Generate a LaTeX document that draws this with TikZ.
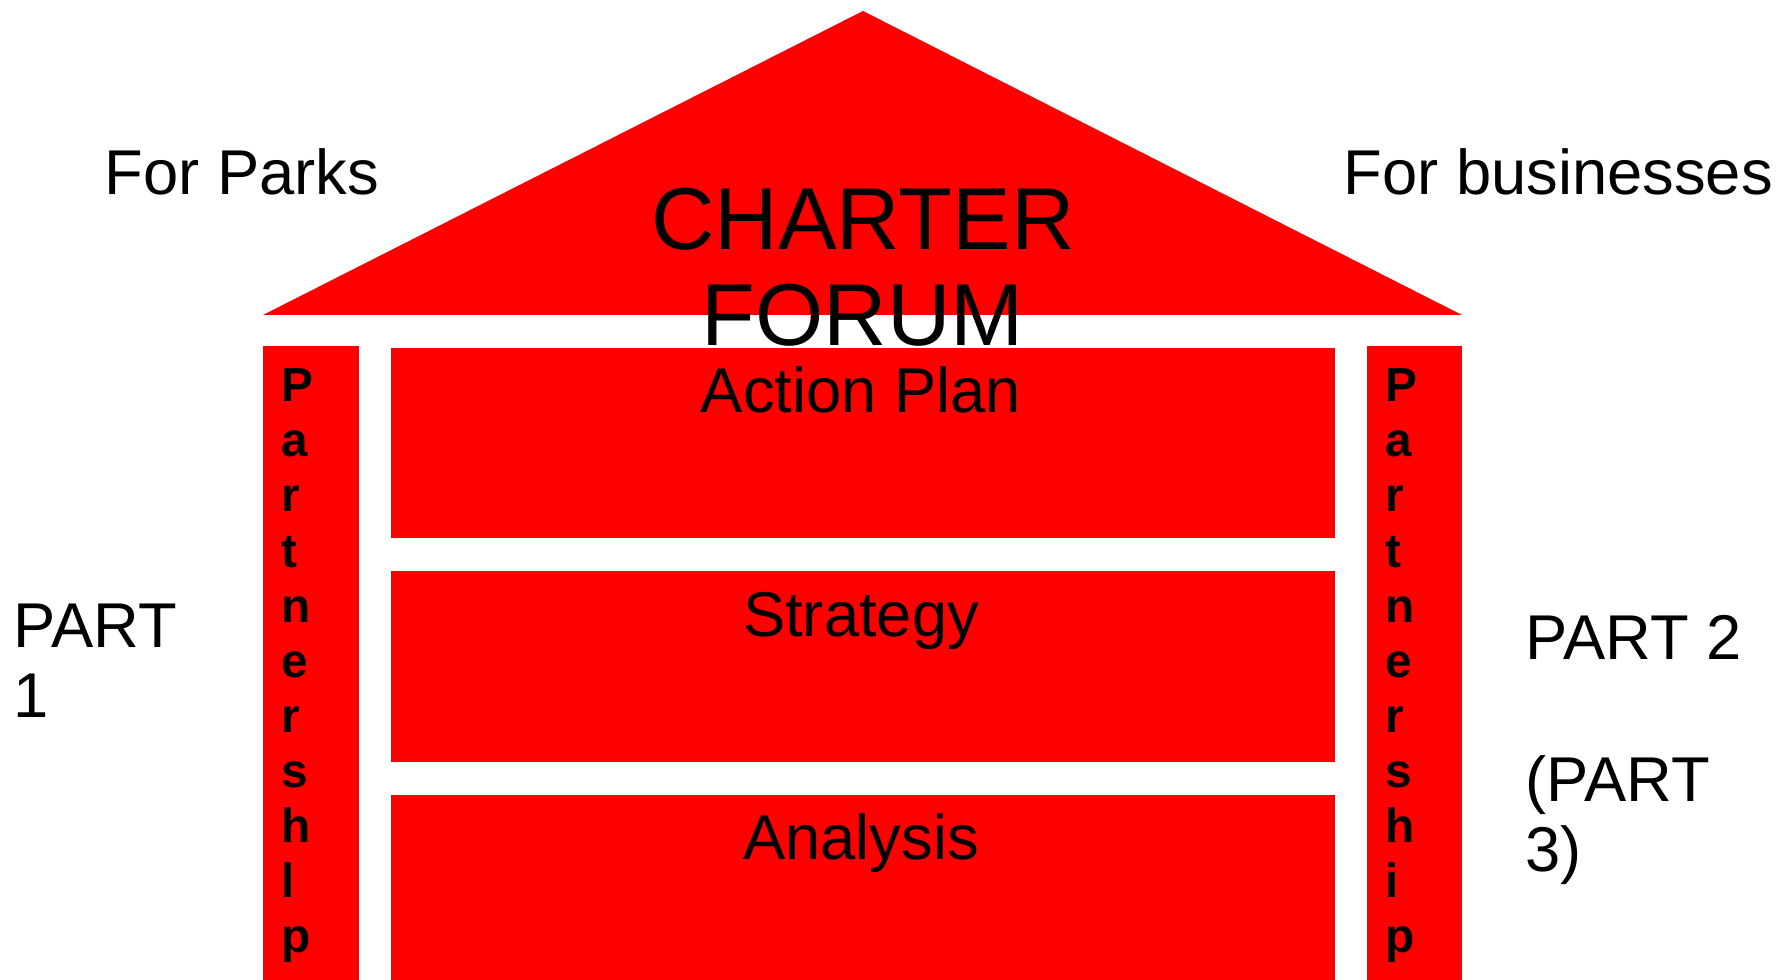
\documentclass[tikz,border=0pt]{standalone}
\usepackage{fontspec}
\setmainfont{Liberation Sans}
\begin{document}
\begin{tikzpicture}[x=0.01cm,y=-0.01cm,
		block/.style={fill=red},
		label/.style={inner sep=0,font=\fontsize{18}{20.1}\selectfont},
		title/.style={inner sep=0,align=center,font=\fontsize{25}{27.3}\selectfont},
		pillartext/.style={inner sep=0,align=left,anchor=base west,
			font=\fontsize{13.6}{15.68}\selectfont\bfseries}]
	\useasboundingbox (0,0) rectangle (1781,980);
	% roof
	\fill[block] (263,315) -- (863,11) -- (1462,315) -- cycle;
	% pillars
	\fill[block] (263,346) rectangle (359,980);
	\fill[block] (1367,346) rectangle (1462,980);
	% floors
	\fill[block] (391,348) rectangle (1335,538);
	\fill[block] (391,571) rectangle (1335,762);
	\fill[block] (391,795) rectangle (1335,980);
	\node[title,anchor=base] (forum) at (863,346) {CHARTER\\FORUM};
	\node[label,anchor=base] (plan) at (861,413) {Action Plan};
	\node[label,anchor=base] (strategy) at (861,637) {Strategy};
	\node[label,anchor=base] (analysis) at (861,860) {Analysis};
	\node[pillartext] (leftpillar) at (281,953)
		{P\\a\\r\\t\\n\\e\\r\\s\\h\\l\\p};
	\node[pillartext] (rightpillar) at (1385,953)
		{P\\a\\r\\t\\n\\e\\r\\s\\h\\i\\p};
	\node[label,anchor=base west] (parks) at (104,195) {For Parks};
	\node[label,anchor=base west] (business) at (1343,195) {For businesses};
	\node[label,anchor=base west,align=left] (partone) at (13,718) {PART\\1};
	\node[label,anchor=base west,align=left] (parttwo) at (1525,872)
		{PART 2\\\mbox{}\\(PART\\3)};
\end{tikzpicture}
\end{document}
